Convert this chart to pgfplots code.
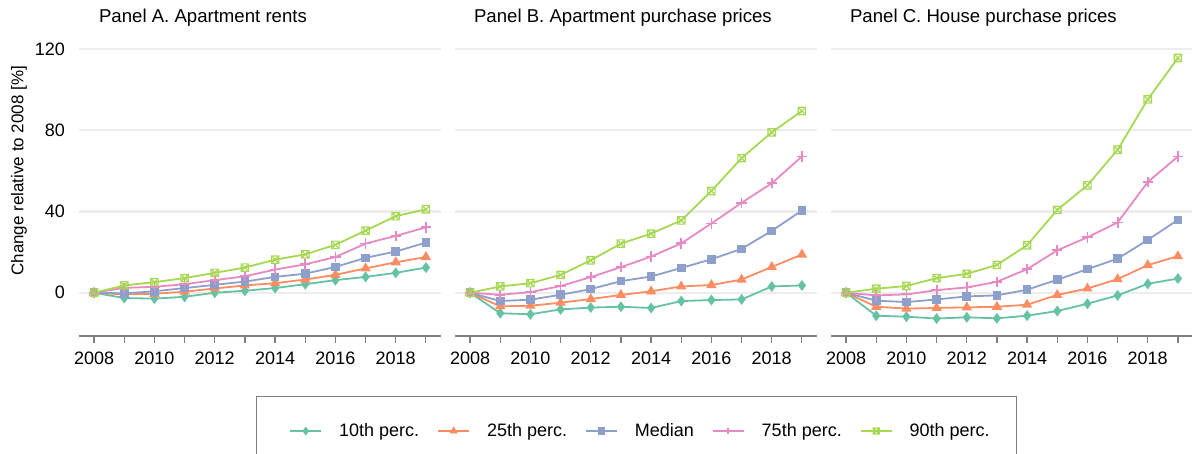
\documentclass[border=0pt]{standalone}
\usepackage{pgfplots}
\pgfplotsset{compat=1.18}
\usepackage{pgfplotstable}
\usepackage{fontspec}
\setmainfont{Liberation Sans}

\definecolor{c10}{HTML}{66C2A5}
\definecolor{c25}{HTML}{FC8D62}
\definecolor{c50}{HTML}{8DA0CB}
\definecolor{c75}{HTML}{E78AC3}
\definecolor{c90}{HTML}{A6D854}
\definecolor{gridc}{HTML}{EDEDED}
\definecolor{axc}{HTML}{7F7F7F}

\pgfdeclareplotmark{boxx}{%
  \pgfpathrectangle{\pgfqpoint{-\pgfplotmarksize}{-\pgfplotmarksize}}{\pgfqpoint{2\pgfplotmarksize}{2\pgfplotmarksize}}%
  \pgfpathmoveto{\pgfqpoint{-0.7\pgfplotmarksize}{-0.7\pgfplotmarksize}}%
  \pgfpathlineto{\pgfqpoint{0.7\pgfplotmarksize}{0.7\pgfplotmarksize}}%
  \pgfpathmoveto{\pgfqpoint{-0.7\pgfplotmarksize}{0.7\pgfplotmarksize}}%
  \pgfpathlineto{\pgfqpoint{0.7\pgfplotmarksize}{-0.7\pgfplotmarksize}}%
  \pgfusepathqstroke}

\pgfplotstableread{
year p10 p25 p50 p75 p90
2008 0 0 0 0 0
2009 -2.6 -0.8 -0.3 2.4 3.6
2010 -2.9 -0.5 0.7 2.9 5.2
2011 -2.0 0.5 2.3 4.2 7.2
2012 0.0 2.1 3.9 6.2 9.8
2013 1.0 3.6 5.5 8.1 12.4
2014 2.3 4.7 7.8 11.4 16.3
2015 4.2 6.5 9.4 14.0 18.9
2016 6.2 8.8 12.7 17.6 23.6
2017 7.8 12.0 17.2 24.2 30.6
2018 9.8 15.0 20.3 28.0 37.7
2019 12.4 17.6 24.7 32.2 41.1
}\tabA

\pgfplotstableread{
year p10 p25 p50 p75 p90
2008 0 0 0 0 0
2009 -10.1 -6.7 -4.1 -1.0 3.1
2010 -10.6 -6.4 -3.4 0.3 4.7
2011 -8.2 -4.9 -1.0 3.3 8.8
2012 -7.3 -3.1 1.8 7.7 16.0
2013 -6.9 -1.1 5.7 12.6 24.2
2014 -7.5 0.7 8.0 17.8 29.1
2015 -4.1 3.1 12.2 24.3 35.6
2016 -3.6 3.8 16.5 34.1 50.1
2017 -3.3 6.5 21.6 44.3 66.3
2018 3.1 12.7 30.5 53.9 79.0
2019 3.6 18.8 40.5 67.1 89.5
}\tabB

\pgfplotstableread{
year p10 p25 p50 p75 p90
2008 0 0 0 0 0
2009 -11.3 -6.9 -3.9 -1.3 2.0
2010 -11.8 -7.8 -4.6 -0.8 3.3
2011 -12.7 -7.5 -3.3 1.3 7.2
2012 -12.1 -7.2 -1.8 2.6 9.3
2013 -12.6 -6.9 -1.3 5.4 13.7
2014 -11.3 -5.9 1.5 11.6 23.4
2015 -9.0 -1.1 6.4 20.9 40.8
2016 -5.4 2.1 11.6 27.3 52.9
2017 -1.3 6.7 16.8 34.6 70.4
2018 4.4 13.6 26.0 54.5 95.2
2019 7.0 18.0 35.9 67.1 115.6
}\tabC

\pgfplotsset{
  panel/.style={
    scale only axis, width=181pt, height=145.5pt,
    anchor=south west,
    xmin=2007.5, xmax=2019.5, ymin=-21.3, ymax=122,
    axis x line*=bottom, axis y line*=left,
    y axis line style={draw=none},
    x axis line style={draw=axc, line width=0.6pt},
    xtick={2008,...,2019},
    xticklabels={2008,,2010,,2012,,2014,,2016,,2018,},
    ytick={0,40,80,120},
    tick align=outside,
    xtick style={draw=axc, line width=0.6pt},
    ytick style={draw=none},
    major tick length=3.5pt,
    ymajorgrids, grid style={draw=gridc, line width=1.2pt},
    /pgf/number format/assume math mode=true,
    tick label style={font=\fontsize{9}{10.5}\selectfont, text=black},
    yticklabel style={xshift=0pt},
    xticklabel style={yshift=-1pt},
    clip=false,
  },
  s10/.style={c10, line width=0.9pt, mark=diamond*, mark size=2.0pt, mark options={solid}},
  s25/.style={c25, line width=0.9pt, mark=triangle*, mark size=2.1pt, mark options={solid}},
  s50/.style={c50, line width=0.9pt, mark=square*, mark size=1.7pt, mark options={solid}},
  s75/.style={c75, line width=0.9pt, mark=+, mark size=2.6pt, mark options={solid}},
  s90/.style={c90, line width=0.9pt, mark=boxx, mark size=1.85pt, mark options={solid, line width=0.6pt}},
}

\begin{document}
\begin{tikzpicture}
\path[use as bounding box] (0,0) rectangle (596pt,227pt);

\begin{axis}[panel, at={(39.5pt,59pt)},
  legend columns=5,
  legend style={draw=none, fill=none, inner sep=0pt,
    at={(axis description cs:0.5801,-0.3265)}, anchor=west,
    font=\fontsize{9}{10.8}\selectfont,
    /tikz/every odd column/.append style={column sep=6.5pt},
    /tikz/every even column/.append style={column sep=7pt}},
  legend image code/.code={\draw[mark repeat=2,mark phase=2,mark size=1.5pt] plot coordinates {(0pt,0pt) (7.75pt,0pt) (15.5pt,0pt)};},
]
\addplot[s10] table[x=year,y=p10] {\tabA}; \addlegendentry{10th perc.}
\addplot[s25] table[x=year,y=p25] {\tabA}; \addlegendentry{25th perc.}
\addplot[s50] table[x=year,y=p50] {\tabA}; \addlegendentry{Median}
\addplot[s75] table[x=year,y=p75] {\tabA}; \addlegendentry{75th perc.}
\addplot[s90] table[x=year,y=p90] {\tabA}; \addlegendentry{90th perc.}
\end{axis}

\begin{axis}[panel, at={(227.5pt,59pt)}, yticklabels={}]
\addplot[s10] table[x=year,y=p10] {\tabB};
\addplot[s25] table[x=year,y=p25] {\tabB};
\addplot[s50] table[x=year,y=p50] {\tabB};
\addplot[s75] table[x=year,y=p75] {\tabB};
\addplot[s90] table[x=year,y=p90] {\tabB};
\end{axis}

\begin{axis}[panel, at={(415.5pt,59pt)}, yticklabels={}]
\addplot[s10] table[x=year,y=p10] {\tabC};
\addplot[s25] table[x=year,y=p25] {\tabC};
\addplot[s50] table[x=year,y=p50] {\tabC};
\addplot[s75] table[x=year,y=p75] {\tabC};
\addplot[s90] table[x=year,y=p90] {\tabC};
\end{axis}

\node[anchor=base west, font=\fontsize{9.3}{11}\selectfont] at (46pt,215.6pt) {Panel A. Apartment rents};
\node[anchor=base west, font=\fontsize{9.3}{11}\selectfont] at (233.5pt,215.6pt) {Panel B. Apartment purchase prices};
\node[anchor=base west, font=\fontsize{9.3}{11}\selectfont] at (421.5pt,215.6pt) {Panel C. House purchase prices};
\node[rotate=90, font=\fontsize{8.5}{10}\selectfont] at (9.5pt,141.6pt) {Change relative to 2008 [\%]};
\draw[axc, line width=0.5pt] (128pt,-5pt) rectangle (508pt,28.5pt);
\end{tikzpicture}
\end{document}
